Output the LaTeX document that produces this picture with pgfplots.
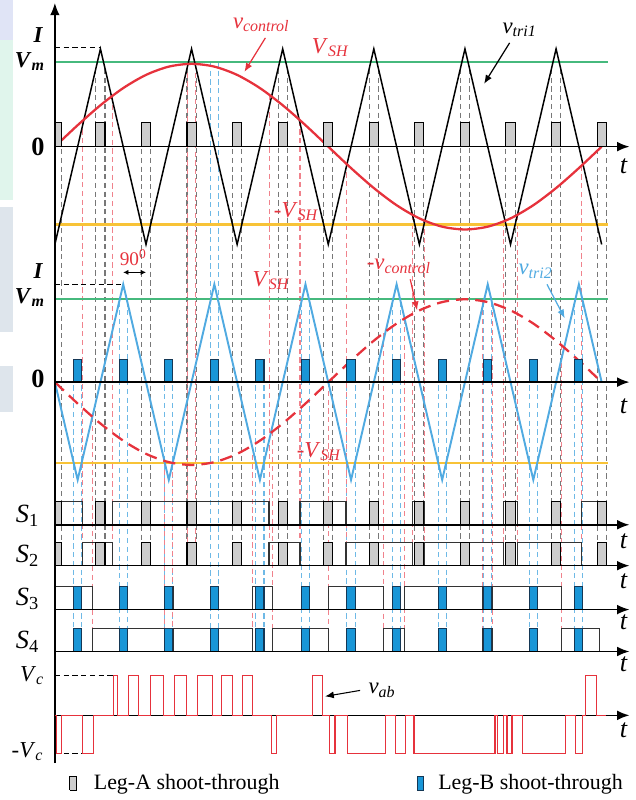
\documentclass[border=0pt]{standalone}
\usepackage{fontspec}
\setmainfont{Liberation Serif}
\usepackage{pgfplots}
\usepackage{pgfplotstable}
\pgfplotsset{compat=1.18}
\usetikzlibrary{arrows.meta}
\definecolor{vred}{RGB}{230,50,60}
\definecolor{vgreen}{RGB}{70,185,125}
\definecolor{vyellow}{RGB}{248,195,55}
\definecolor{vblue}{RGB}{80,170,225}
\definecolor{pblue}{RGB}{25,150,215}
\definecolor{pbluedk}{RGB}{20,55,85}
\definecolor{pgray}{RGB}{205,205,205}
\definecolor{dgray}{RGB}{120,120,120}
\definecolor{dred}{RGB}{240,130,140}
\definecolor{dblue}{RGB}{110,185,230}
\definecolor{wmA}{RGB}{224,228,246}
\definecolor{wmB}{RGB}{224,245,236}
\definecolor{wmC}{RGB}{222,229,236}

\pgfplotstableread{
x h
0 0
0 1
0.15 1
0.15 0
0.9 0
0.9 1
1.1 1
1.1 0
1.9 0
1.9 1
2.1 1
2.1 0
2.9 0
2.9 1
3.1 1
3.1 0
3.9 0
3.9 1
4.1 1
4.1 0
4.9 0
4.9 1
5.1 1
5.1 0
5.9 0
5.9 1
6.1 1
6.1 0
6.9 0
6.9 1
7.1 1
7.1 0
7.9 0
7.9 1
8.1 1
8.1 0
8.9 0
8.9 1
9.1 1
9.1 0
9.9 0
9.9 1
10.1 1
10.1 0
10.9 0
10.9 1
11.1 1
11.1 0
11.9 0
11.9 1
12.1 1
12.1 0
}\graypulse

\pgfplotstableread{
x h
0.41 0
0.41 1
0.59 1
0.59 0
1.41 0
1.41 1
1.59 1
1.59 0
2.41 0
2.41 1
2.59 1
2.59 0
3.41 0
3.41 1
3.59 1
3.59 0
4.41 0
4.41 1
4.59 1
4.59 0
5.41 0
5.41 1
5.59 1
5.59 0
6.41 0
6.41 1
6.59 1
6.59 0
7.41 0
7.41 1
7.59 1
7.59 0
8.41 0
8.41 1
8.59 1
8.59 0
9.41 0
9.41 1
9.59 1
9.59 0
10.41 0
10.41 1
10.59 1
10.59 0
11.41 0
11.41 1
11.59 1
11.59 0
}\bluepulse

\newcommand{\lbl}{\fontsize{13}{15}\selectfont}
\newcommand{\lblbig}{\fontsize{15}{17}\selectfont}

\begin{document}
\begin{tikzpicture}
\begin{axis}[
  scale only axis, width=12.74cm, height=16cm,
  xmin=-1.2043, xmax=12.744, ymin=0, ymax=800,
  axis line style={draw=none}, xtick=\empty, ytick=\empty,
  clip=false, unbounded coords=jump,
]
% ---- faint background watermark at the left edge ----
\fill[wmA] (axis cs:-1.2043,760) rectangle (axis cs:-0.92,800);
\fill[wmB] (axis cs:-1.2043,600) rectangle (axis cs:-0.92,760);
\fill[wmC] (axis cs:-1.2043,467) rectangle (axis cs:-0.92,593);
\fill[wmC] (axis cs:-1.2043,387) rectangle (axis cs:-0.92,433);
% ---- vertical dashed guide lines ----
\addplot[dgray, line width=0.6pt, dash pattern=on 3pt off 2pt] coordinates {
(0.15,677)(0.15,233)(0.15,nan)
(0.9,731)(0.9,233)(0.9,nan)(1.1,731)(1.1,233)(1.1,nan)
(1.9,677)(1.9,233)(1.9,nan)(2.1,677)(2.1,233)(2.1,nan)
(2.9,731)(2.9,233)(2.9,nan)(3.1,731)(3.1,233)(3.1,nan)
(3.9,677)(3.9,233)(3.9,nan)(4.1,677)(4.1,233)(4.1,nan)
(4.9,731)(4.9,233)(4.9,nan)(5.1,731)(5.1,233)(5.1,nan)
(5.9,677)(5.9,233)(5.9,nan)(6.1,677)(6.1,233)(6.1,nan)
(6.9,731)(6.9,233)(6.9,nan)(7.1,731)(7.1,233)(7.1,nan)
(7.9,677)(7.9,233)(7.9,nan)(8.1,677)(8.1,233)(8.1,nan)
(8.9,731)(8.9,233)(8.9,nan)(9.1,731)(9.1,233)(9.1,nan)
(9.9,677)(9.9,233)(9.9,nan)(10.1,677)(10.1,233)(10.1,nan)
(10.9,731)(10.9,233)(10.9,nan)(11.1,731)(11.1,233)(11.1,nan)
(11.9,677)(11.9,233)(11.9,nan)(12.1,677)(12.1,233)
};
\addplot[dblue, line width=0.6pt, dash pattern=on 3pt off 2pt] coordinates {
(0.41,440)(0.41,147)(0.41,nan)(0.59,440)(0.59,147)(0.59,nan)
(1.41,498)(1.41,147)(1.41,nan)(1.59,498)(1.59,147)(1.59,nan)
(2.41,440)(2.41,147)(2.41,nan)(2.59,440)(2.59,147)(2.59,nan)
(3.41,738)(3.41,147)(3.41,nan)(3.59,738)(3.59,147)(3.59,nan)
(4.41,440)(4.41,147)(4.41,nan)(4.59,440)(4.59,147)(4.59,nan)
(5.41,498)(5.41,147)(5.41,nan)(5.59,498)(5.59,147)(5.59,nan)
(6.41,440)(6.41,147)(6.41,nan)(6.59,440)(6.59,147)(6.59,nan)
(7.41,498)(7.41,147)(7.41,nan)(7.59,498)(7.59,147)(7.59,nan)
(8.41,440)(8.41,147)(8.41,nan)(8.59,440)(8.59,147)(8.59,nan)
(9.41,498)(9.41,147)(9.41,nan)(9.59,498)(9.59,147)(9.59,nan)
(10.41,440)(10.41,147)(10.41,nan)(10.59,440)(10.59,147)(10.59,nan)
(11.41,498)(11.41,147)(11.41,nan)(11.59,498)(11.59,147)
};
\addplot[dred, line width=0.6pt, dash pattern=on 3pt off 2pt] coordinates {
(0.6,679)(0.6,233)(0.6,nan)(1.27,704)(1.27,233)(1.27,nan)
(2.92,736)(2.92,233)(2.92,nan)(3.08,736)(3.08,233)(3.08,nan)
(4.7,705)(4.7,233)(4.7,nan)(5.38,679)(5.38,233)(5.38,nan)
(6.39,636)(6.39,233)(6.39,nan)(7.85,585)(7.85,233)(7.85,nan)
(8.12,579)(8.12,233)(8.12,nan)(9.85,578)(9.85,233)(9.85,nan)
(10.15,585)(10.15,233)(10.15,nan)(11.55,634)(11.55,233)(11.55,nan)
(0.82,382)(0.82,147)(0.82,nan)(2.40,338)(2.40,147)(2.40,nan)
(2.59,336)(2.59,147)(2.59,nan)(4.33,353)(4.33,147)(4.33,nan)
(4.78,368)(4.78,147)(4.78,nan)(6.0,417)(6.0,147)(6.0,nan)
(7.22,466)(7.22,147)(7.22,nan)(7.68,481)(7.68,147)(7.68,nan)
(9.38,498)(9.38,147)(9.38,nan)(9.6,496)(9.6,147)(9.6,nan)
(11.12,454)(11.12,147)
};
% ---- panel 1 ----
\addplot[vgreen, line width=1.1pt] coordinates {(0,738)(12.15,738)};
\addplot[vyellow, line width=1.4pt] coordinates {(0,575)(12.15,575)};
\addplot[black, line width=0.85pt] coordinates {(0,555)(1,751)(2,555)(3,751)(4,555)(5,751)(6,555)(7,751)(8,555)(9,751)(10,555)(11,751)(12,555)};
\addplot[vred, line width=1.3pt, smooth] coordinates {(0,653)(0.5,674.5)(1,694.5)(1.5,711.7)(2,724.9)(2.5,733.2)(3,736)(3.5,733.2)(4,724.9)(4.5,711.7)(5,694.5)(5.5,674.5)(6,653)(6.5,631.5)(7,611.5)(7.5,594.3)(8,581.1)(8.5,572.8)(9,570)(9.5,572.8)(10,581.1)(10.5,594.3)(11,611.5)(11.5,631.5)(12,653)};
\addplot[fill=pgray, draw=black, line width=0.6pt] table[x=x, y expr=653+24*\thisrow{h}] {\graypulse};
\addplot[black, line width=0.6pt, dash pattern=on 3pt off 2pt] coordinates {(0,752)(1,752)};
% ---- panel 2 ----
\addplot[vgreen, line width=1.1pt] coordinates {(0,500)(12.15,500)};
\addplot[vyellow, line width=1.4pt] coordinates {(0,336)(12.15,336)};
\addplot[vblue, line width=1.1pt] coordinates {(0,417)(0.5,319)(1.5,515)(2.5,319)(3.5,515)(4.5,319)(5.5,515)(6.5,319)(7.5,515)(8.5,319)(9.5,515)(10.5,319)(11.5,515)(12,417)};
\addplot[vred, line width=1.3pt, smooth, dash pattern=on 7pt off 4pt] coordinates {(0,417)(0.5,395.5)(1,375.5)(1.5,358.3)(2,345.1)(2.5,336.8)(3,334)(3.5,336.8)(4,345.1)(4.5,358.3)(5,375.5)(5.5,395.5)(6,417)(6.5,438.5)(7,458.5)(7.5,475.7)(8,488.9)(8.5,497.2)(9,500)(9.5,497.2)(10,488.9)(10.5,475.7)(11,458.5)(11.5,438.5)(12,417)};
\addplot[fill=pblue, draw=pbluedk, line width=0.6pt] table[x=x, y expr=417+23*\thisrow{h}] {\bluepulse};
\addplot[black, line width=0.6pt, dash pattern=on 3pt off 2pt] coordinates {(0,515)(1.5,515)};
% ---- switching signals ----
\addplot[black!80, line width=0.7pt] coordinates {(0,274)(0,297)(0.6,297)(0.6,274)(1.27,274)(1.27,297)(2.92,297)(2.92,274)(3.08,274)(3.08,297)(4.7,297)(4.7,274)(5.38,274)(5.38,297)(6.39,297)(6.39,274)(7.85,274)(7.85,297)(8.12,297)(8.12,274)(9.85,274)(9.85,297)(10.15,297)(10.15,274)(11.55,274)(11.55,297)(12.0,297)(12.0,274)};
\addplot[black!80, line width=0.7pt] coordinates {(0.6,233)(0.6,256)(1.27,256)(1.27,233)(2.92,233)(2.92,256)(3.08,256)(3.08,233)(4.7,233)(4.7,256)(5.38,256)(5.38,233)(6.39,233)(6.39,256)(7.85,256)(7.85,233)(8.12,233)(8.12,256)(9.85,256)(9.85,233)(10.15,233)(10.15,256)(11.55,256)(11.55,233)};
\addplot[black!80, line width=0.7pt] coordinates {(0,189)(0,212)(0.82,212)(0.82,189)(2.40,189)(2.40,212)(2.59,212)(2.59,189)(4.33,189)(4.33,212)(4.78,212)(4.78,189)(6.0,189)(6.0,212)(7.22,212)(7.22,189)(7.68,189)(7.68,212)(9.38,212)(9.38,189)(9.6,189)(9.6,212)(11.12,212)(11.12,189)};
\addplot[black!80, line width=0.7pt] coordinates {(0.82,147)(0.82,170)(2.40,170)(2.40,147)(2.59,147)(2.59,170)(4.33,170)(4.33,147)(4.78,147)(4.78,170)(6.0,170)(6.0,147)(7.22,147)(7.22,170)(7.68,170)(7.68,147)(9.38,147)(9.38,170)(9.6,170)(9.6,147)(11.12,147)(11.12,170)(11.95,170)(11.95,147)};
\addplot[fill=pgray, draw=black, line width=0.6pt] table[x=x, y expr=274+23*\thisrow{h}] {\graypulse};
\addplot[fill=pgray, draw=black, line width=0.6pt] table[x=x, y expr=233+23*\thisrow{h}] {\graypulse};
\addplot[fill=pblue, draw=pbluedk, line width=0.6pt] table[x=x, y expr=189+23*\thisrow{h}] {\bluepulse};
\addplot[fill=pblue, draw=pbluedk, line width=0.6pt] table[x=x, y expr=147+23*\thisrow{h}] {\bluepulse};
% ---- axes ----
\addplot[black, line width=0.85pt, -{Latex[length=7pt,width=5.5pt]}] coordinates {(0,35)(0,797)};
\addplot[black, line width=0.85pt, -{Latex[length=7pt,width=5.5pt]}] coordinates {(0,653)(12.61,653)};
\addplot[black, line width=0.85pt, -{Latex[length=7pt,width=5.5pt]}] coordinates {(0,417)(12.61,417)};
\addplot[black, line width=0.85pt, -{Latex[length=7pt,width=5.5pt]}] coordinates {(0,274)(12.61,274)};
\addplot[black, line width=0.85pt, -{Latex[length=7pt,width=5.5pt]}] coordinates {(0,233)(12.61,233)};
\addplot[black, line width=0.85pt, -{Latex[length=7pt,width=5.5pt]}] coordinates {(0,189)(12.61,189)};
\addplot[black, line width=0.85pt, -{Latex[length=7pt,width=5.5pt]}] coordinates {(0,147)(12.61,147)};
\addplot[black, line width=0.85pt, -{Latex[length=7pt,width=5.5pt]}] coordinates {(0,83)(12.61,83)};
% ---- v_ab ----
\addplot[black, line width=0.6pt, dash pattern=on 3pt off 2pt] coordinates {(0,123)(1.29,123)};
\addplot[black, line width=0.6pt, dash pattern=on 3pt off 2pt] coordinates {(0,45)(0.61,45)};
\addplot[vred, line width=0.75pt] coordinates {(0,83)(0.04,83)(0.04,45)(0.15,45)(0.15,83)(0.61,83)(0.61,45)(0.85,45)(0.85,83)(1.29,83)(1.29,123)(1.38,123)(1.38,83)(1.62,83)(1.62,123)(1.84,123)(1.84,83)(2.10,83)(2.10,123)(2.39,123)(2.39,83)(2.63,83)(2.63,123)(2.89,123)(2.89,83)(3.13,83)(3.13,123)(3.46,123)(3.46,83)(3.66,83)(3.66,123)(3.90,123)(3.90,83)(4.12,83)(4.12,123)(4.34,123)(4.34,83)(4.75,83)(4.75,45)(4.86,45)(4.86,83)(5.65,83)(5.65,123)(5.87,123)(5.87,83)(6.02,83)(6.02,45)(6.15,45)(6.15,83)(6.42,83)(6.42,45)(7.25,45)(7.25,83)(7.47,83)(7.47,45)(7.69,45)(7.69,83)(7.88,83)(7.88,45)(9.66,45)(9.66,83)(9.72,83)(9.72,45)(9.85,45)(9.85,83)(9.92,83)(9.92,45)(10.03,45)(10.03,83)(10.27,83)(10.27,45)(11.21,45)(11.21,83)(11.43,83)(11.43,45)(11.58,45)(11.58,83)(11.65,83)(11.65,123)(11.89,123)(11.89,83)(12.1,83)};
% ---- legend boxes ----
\addplot[fill=pgray, draw=black, line width=0.6pt] coordinates {(0.33,8)(0.33,22)(0.48,22)(0.48,8)(0.33,8)};
\addplot[fill=pblue, draw=pbluedk, line width=0.6pt] coordinates {(7.95,8)(7.95,22)(8.1,22)(8.1,8)(7.95,8)};
% ---- labels ----
\node[font=\lbl\bfseries\itshape] at (axis cs:-0.37,765) {I};
\node[font=\lbl\bfseries] at (axis cs:-0.55,738) {\textit{V}\textsubscript{\textit{m}}};
\node[font=\lblbig\bfseries] at (axis cs:-0.37,653) {0};
\node[font=\lblbig\itshape] at (axis cs:12.48,633) {t};
\node[font=\lbl\bfseries\itshape] at (axis cs:-0.37,528) {I};
\node[font=\lbl\bfseries] at (axis cs:-0.55,502) {\textit{V}\textsubscript{\textit{m}}};
\node[font=\lblbig\bfseries] at (axis cs:-0.37,420) {0};
\node[font=\lblbig\itshape] at (axis cs:12.48,393) {t};
\node[font=\lblbig\itshape] at (axis cs:12.48,258) {t};
\node[font=\lblbig\itshape] at (axis cs:12.48,217) {t};
\node[font=\lblbig\itshape] at (axis cs:12.48,176) {t};
\node[font=\lblbig\itshape] at (axis cs:12.48,134) {t};
\node[font=\lblbig\itshape] at (axis cs:12.48,68) {t};
\node[font=\lblbig] at (axis cs:-0.6,283) {\textit{S}\textsubscript{1}};
\node[font=\lblbig] at (axis cs:-0.6,243) {\textit{S}\textsubscript{2}};
\node[font=\lblbig] at (axis cs:-0.6,200) {\textit{S}\textsubscript{3}};
\node[font=\lblbig] at (axis cs:-0.6,157) {\textit{S}\textsubscript{4}};
\node[font=\lbl] at (axis cs:-0.5,123) {\textit{V}\textsubscript{\textit{c}}};
\node[font=\lbl] at (axis cs:-0.6,47) {-\textit{V}\textsubscript{\textit{c}}};
\node[font=\lbl, text=vred] at (axis cs:4.53,775) {\textit{v}\textsubscript{\textit{control}}};
\draw[vred, line width=0.7pt, -{Latex[length=5pt,width=4pt]}] (axis cs:4.62,762) -- (axis cs:4.16,728);
\node[font=\lbl, text=vred] at (axis cs:6.05,752) {\textit{V}\textsubscript{\textit{SH}}};
\node[font=\lbl] at (axis cs:10.2,770) {\textit{v}\textsubscript{\textit{tri1}}};
\draw[black, line width=0.7pt, -{Latex[length=5pt,width=4pt]}] (axis cs:9.98,757) -- (axis cs:9.42,716);
\node[font=\lbl, text=vred] at (axis cs:5.3,588) {-\textit{V}\textsubscript{\textit{SH}}};
\node[font=\fontsize{11}{13}\selectfont, text=vred] at (axis cs:1.72,542) {90\textsuperscript{0}};
\draw[black, line width=0.5pt, {Latex[length=3pt,width=3pt]}-{Latex[length=3pt,width=3pt]}] (axis cs:1.5,527) -- (axis cs:2.0,527);
\node[font=\lbl, text=vred] at (axis cs:4.75,519) {\textit{V}\textsubscript{\textit{SH}}};
\node[font=\lbl, text=vred] at (axis cs:7.55,533) {-\textit{v}\textsubscript{\textit{control}}};
\draw[vred, line width=0.7pt, -{Latex[length=5pt,width=4pt]}] (axis cs:7.8,520) -- (axis cs:7.95,489);
\node[font=\lbl, text=vblue] at (axis cs:10.55,528) {\textit{v}\textsubscript{\textit{tri2}}};
\draw[vblue, line width=0.7pt, -{Latex[length=5pt,width=4pt]}] (axis cs:10.8,515) -- (axis cs:11.19,481);
\node[font=\lbl, text=vred] at (axis cs:5.8,347) {-\textit{V}\textsubscript{\textit{SH}}};
\node[font=\lbl, anchor=west] at (axis cs:6.75,108) {\textit{v}\textsubscript{\textit{ab}}};
\draw[black, line width=0.6pt, -{Latex[length=5pt,width=4pt]}] (axis cs:6.7,108) -- (axis cs:5.93,102);
\node[font=\fontsize{12.5}{14}\selectfont, anchor=west] at (axis cs:0.72,14) {Leg-A shoot-through};
\node[font=\fontsize{12.5}{14}\selectfont, anchor=west] at (axis cs:8.28,14) {Leg-B shoot-through};
\end{axis}
\end{tikzpicture}
\end{document}
